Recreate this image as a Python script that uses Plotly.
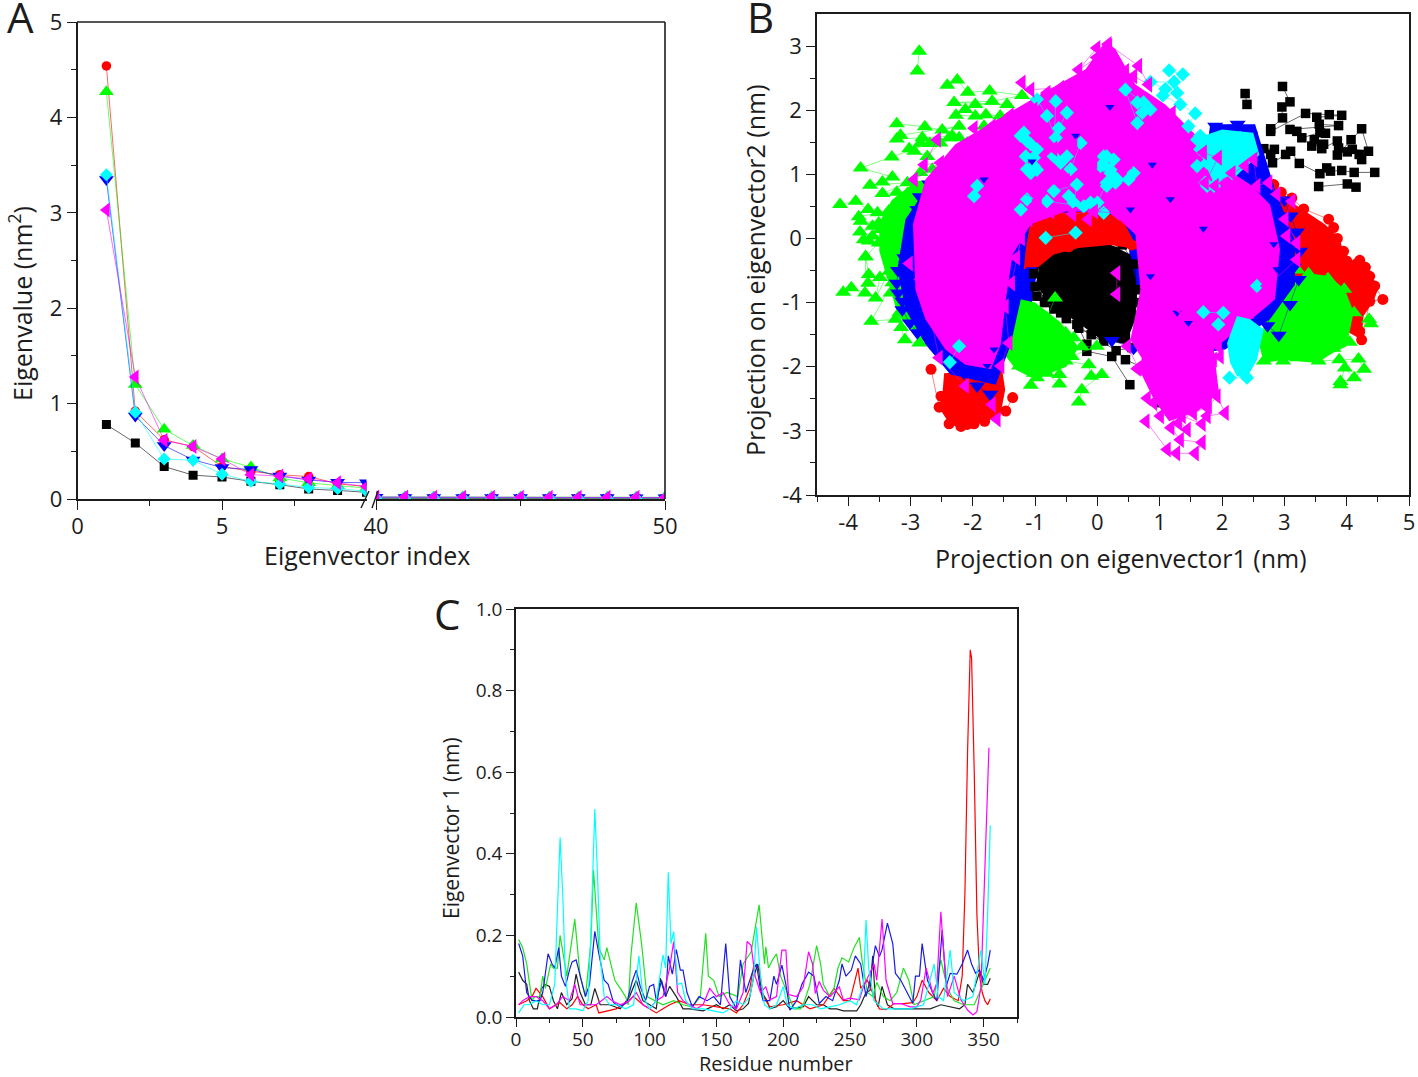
import plotly.graph_objects as go

W, H = 1418, 1077
BLACK, RED, GREEN, BLUE, CYAN, MAGENTA = "#000000", "#ff0000", "#00ff00", "#0000ff", "#00ffff", "#ff00ff"
FONT = "Open Sans"
INK = "#1c1c1c"

# ---------- Panel A : eigenvalues ----------
idx_left = [1, 2, 3, 4, 5, 6, 7, 8, 9, 10]
idx_right = [40, 41, 42, 43, 44, 45, 46, 47, 48, 49, 50]
a_black = [0.78, 0.587, 0.34, 0.25, 0.23, 0.185, 0.15, 0.105, 0.09, 0.07]
a_red = [4.54, 0.92, 0.62, 0.55, 0.34, 0.29, 0.255, 0.235, 0.16, 0.13]
a_green = [4.27, 1.20, 0.73, 0.56, 0.42, 0.335, 0.22, 0.17, 0.14, 0.115]
a_blue = [3.35, 0.87, 0.56, 0.41, 0.33, 0.31, 0.24, 0.20, 0.175, 0.17]
a_cyan = [3.40, 0.91, 0.42, 0.405, 0.26, 0.185, 0.157, 0.12, 0.11, 0.08]
a_magenta = [3.03, 1.28, 0.615, 0.55, 0.42, 0.255, 0.24, 0.21, 0.17, 0.13]
a_black_r = [0.006, 0.006, 0.005, 0.005, 0.005, 0.005, 0.004, 0.004, 0.004, 0.004, 0.004]
a_red_r = [0.016, 0.015, 0.015, 0.015, 0.014, 0.014, 0.014, 0.013, 0.013, 0.013, 0.012]
a_green_r = [0.022, 0.021, 0.021, 0.020, 0.020, 0.019, 0.019, 0.019, 0.018, 0.018, 0.018]
a_blue_r = [0.018, 0.017, 0.017, 0.016, 0.016, 0.016, 0.015, 0.015, 0.015, 0.014, 0.014]
a_cyan_r = [0.014, 0.013, 0.013, 0.013, 0.012, 0.012, 0.012, 0.011, 0.011, 0.011, 0.011]
a_magenta_r = [0.020, 0.020, 0.019, 0.019, 0.018, 0.018, 0.018, 0.017, 0.017, 0.017, 0.016]

# ---------- Panel B : projections (individually read points) ----------
b_black_x = [2.37, 2.40, None, 2.97, 3.09, 2.96, 2.97, 2.78, 2.78, 3.34, 3.72, 3.92, 3.52, 3.56, 3.87, 3.09, 3.20, 3.28, 3.57, 3.66, 3.48, 3.44, 3.63, 3.60, 3.85, 3.87, 3.85, 4.07, 4.24, 4.35, 4.09, 4.01, 4.20, 4.24, None, 2.67, 2.84, 2.78, 2.81, 3.02, 3.10, 3.24, 3.57, 3.68, 3.74, 3.92, 4.12, 4.45, None, 3.55, 4.01, 4.15,
             None, -0.97, -0.81, -0.59, -0.33, -0.17, -0.17, 0.23, 0.52, None, 0.45, 0.77, 0.98, None, -0.9, -0.6, 0.0, 0.4, 0.6, 0.62, 0.6, 0.45, 0.1, -0.3, -0.7, -1.0, None, -1.02, -0.8, -0.4, -0.2, 0.25, 0.5, 0.66, 0.66, 0.55, 0.3, -0.1, -0.5, -0.85]
b_black_y = [2.26, 2.09, None, 2.37, 2.13, 2.05, 1.88, 1.71, 1.67, 1.95, 1.93, 1.92, 1.89, 1.78, 1.76, 1.70, 1.67, 1.57, 1.65, 1.64, 1.54, 1.44, 1.47, 1.40, 1.52, 1.41, 1.30, 1.54, 1.71, 1.36, 1.39, 1.35, 1.31, 1.23, None, 1.40, 1.39, 1.31, 1.18, 1.31, 1.36, 1.17, 1.01, 1.10, 1.05, 1.06, 1.03, 1.03, None, 0.81, 0.85, 0.80,
             None, -0.90, -0.95, -1.16, -1.34, -1.65, -1.76, -1.84, -2.28, None, -1.89, -2.03, -2.56, None, -0.4, -0.1, 0.0, -0.1, -0.4, -0.8, -1.2, -1.55, -1.6, -1.4, -1.1, -0.75, None, -0.55, -0.3, -0.15, -0.05, -0.2, -0.6, -1.0, -1.4, -1.7, -1.75, -1.5, -1.25, -1.0]
b_black_core_x = [-0.91, -0.59, 0.05, 0.53, 0.64, 0.61, 0.45, 0.05, -0.27, -0.75, -0.99]
b_black_core_y = [-0.33, -0.09, -0.02, -0.25, -0.80, -1.26, -1.65, -1.57, -1.34, -1.03, -0.72]

b_red_x = [2.83, 2.69, 3.12, 3.31, 3.71, 3.79, 3.85, 3.95, 4.0, 4.15, 4.3, None, 4.21, 4.37, 4.45, 4.58, 4.37, 4.24, 4.21, 3.95, None, 3.97, 3.79, 3.52,
           None, -2.67, -2.54, -2.51, -2.38, -2.33, -2.19, -2.09, -1.98, -1.81, -1.47, -1.36,
           None, -1.2, -1.15, -1.05, -0.8, -0.5, -0.2, 0.1, 0.35, 0.55, None, -0.46, -1.0, None, 2.95, 3.05, 3.3, 3.55, 3.0, 2.9]
b_red_y = [0.84, 0.94, 0.63, 0.46, 0.30, 0.17, 0.0, -0.2, -0.35, -0.4, -0.45, None, -0.34, -0.59, -0.74, -0.95, -0.98, -1.58, -1.45, -1.42, None, -0.54, -0.28, -0.22,
           None, -2.04, -2.63, -2.46, -2.89, -2.75, -2.93, -2.90, -2.89, -2.85, -2.69, -2.48,
           None, -0.4, -0.1, 0.12, 0.18, 0.2, 0.25, 0.22, 0.15, -0.1, None, -0.13, -0.3, None, 0.72, 0.5, 0.1, -0.1, 0.2, 0.45]
b_red_core_x = [2.83, 3.17, 3.65, 3.89, 3.97, 4.37, 4.5, 4.43, 4.27, 4.24, 3.95, 3.25, 2.93, 2.6, None,
                -2.46, -1.53, -1.48, -1.56, -1.88, -2.17, -2.38, -2.54, -2.49, None,
                -1.28, -0.91, -0.19, 0.37, 0.65, 0.2, -0.3, -0.7, -0.95, -1.2]
b_red_core_y = [0.84, 0.53, 0.22, 0.0, -0.33, -0.48, -0.8, -0.98, -1.21, -1.58, -1.42, -0.95, -0.38, 0.2, None,
                -2.10, -2.04, -2.36, -2.77, -2.88, -2.98, -2.88, -2.64, -2.46, None,
                -0.09, 0.38, 0.42, 0.36, -0.17, -0.1, -0.15, -0.25, -0.45, -0.45]

b_green_x = [-2.86, -2.89, None, -2.41, -2.25, -2.08, -1.73, -1.21, -1.69, -2.30, -1.45, -1.96, -2.12, -2.27, -1.96, -1.79, -1.56, None, -3.22, -2.77, -2.49, -2.22, -3.16, -3.22, -2.81, -2.33, -3.02, -2.69, -3.30, -3.80, -3.29, -3.45, -3.65, -3.05, -3.45, -3.22, -3.05, None, -4.13, -3.88, -3.68, -3.53, -3.35, -3.22, -3.83, -3.61, -3.29, -3.81, -3.67, -3.51, -3.72,
             None, -2.38, -2.84, -2.94, -2.73, -2.52, -2.22, -2.09, -1.82, -1.56, -1.93, None, -2.84, -2.65, None, -3.21, -3.16, -3.48, -3.75, -3.61, -3.37, -3.10, -3.80, -3.51,
             None, -4.08, -3.95, -3.73, -3.72, -3.67, -3.68, -3.49, -3.56, -3.34, -3.32, -3.29, -3.63, -3.24, -3.18, -3.15, -3.09, -3.0, -2.86, -2.57,
             None, -0.68, -0.81, -0.51, -0.38, -0.25, -0.01, -0.41, -0.51, -0.14, -0.10, 0.07, -0.25, -0.30, None, -0.61, -0.61, -0.81, -0.97, -1.07, -1.02, -1.26, -1.21, -0.75, -1.07, -1.02, -0.73, -0.75,
             None, 2.67, 2.93, 2.98, 3.20, 3.55, 3.88, 4.19, 4.28, 4.12, 3.97, 3.90, 3.90, None, 4.39, 4.36, 4.12, 3.96, 3.70, 3.39, 3.21, None, 4.05, 3.79, 3.31, 2.74]
b_green_y = [2.92, 2.61, None, 2.39, 2.47, 2.28, 2.30, 2.23, 2.14, 2.12, 2.09, 2.09, 2.01, 1.92, 1.91, 1.93, 1.91, None, 1.79, 1.74, 1.69, 1.75, 1.61, 1.55, 1.57, 1.60, 1.40, 1.48, 1.27, 1.10, 0.96, 0.88, 0.83, 0.87, 0.70, 0.72, 0.70, None, 0.53, 0.58, 0.45, 0.40, 0.43, 0.45, 0.34, 0.19, 0.24, 0.10, -0.04, -0.07, -0.28,
             None, 1.57, 1.49, 1.36, 1.28, 1.49, 1.57, 1.49, 1.75, 1.80, 1.49, None, 1.03, 1.08, None, 0.56, 0.35, 0.14, -0.02, 0.04, 0.04, -0.17, 0.27, 0.24,
             None, -0.84, -0.77, -0.85, -0.29, -0.56, -0.70, -0.61, -0.93, -0.51, -0.85, -0.69, -1.29, -1.26, -1.16, -1.39, -1.58, -1.06, -1.63, -1.68,
             None, -0.93, -1.24, -1.47, -1.55, -1.69, -1.68, -1.84, -1.91, -1.97, -2.15, -2.12, -2.36, -2.55, None, -2.12, -2.27, -2.10, -2.17, -2.29, -2.10, -1.99, -1.68, -1.58, -1.37, -1.73, -1.99, -1.78,
             None, -1.91, -1.81, -1.91, -1.86, -1.91, -1.89, -1.88, -2.04, -2.17, -2.02, -2.23, -2.28, None, -1.33, -1.26, -1.16, -0.79, -0.63, -0.55, -0.49, None, -1.62, -1.71, -1.78, -1.84]
b_green_core_x = [-2.9, -3.3, -3.5, -3.5, -3.35, -3.2, -2.8, -2.4, -2.4, None,
                  -1.45, -1.0, -0.6, -0.3, -0.5, -1.0, -1.3, -1.5, None,
                  2.72, 3.04, 3.36, 3.73, 3.97, 4.11, 4.00, 3.79, 3.52, 2.99, 2.67, 2.59]
b_green_core_y = [0.9, 0.6, 0.25, -0.2, -0.7, -1.2, -1.6, -1.6, 0.9, None,
                  -0.9, -1.0, -1.3, -1.7, -2.0, -2.2, -2.05, -1.8, None,
                  -1.21, -0.74, -0.54, -0.59, -0.80, -1.16, -1.68, -1.78, -1.94, -1.89, -1.94, -1.63]

b_blue_x = [-3.13, -3.13, -3.01, -2.89, -2.76, -2.57, None, -2.14, -1.97, -1.93, -1.72, None, -2.86, None, -2.89, -2.92, -2.89, -3.02, -3.1, -3.2, -3.22, -3.2, None, -2.44, -2.14, -2.7, -2.85,
            None, 1.89, 2.25, 2.45, 2.48, 2.32, None, 3.23, 3.09, 2.91, 2.73, 2.83, None, 1.57, None, 0.23, 0.58, None, 1.46, None, 3.0, 3.1, 3.2, 3.25, 3.15]
b_blue_y = [-0.98, -1.11, -1.32, -1.47, -1.45, -1.60, None, -2.10, -2.11, -2.30, -2.43, None, -1.19, None, 0.45, 0.24, 0.04, -0.15, -0.3, -0.5, -0.7, -0.85, None, 0.92, 1.00, 0.85, 0.65,
            None, 1.75, 1.78, 1.61, 1.36, 1.31, None, -0.64, -1.03, -1.51, -1.36, -0.95, None, -1.83, None, -1.59, -1.71, None, -1.03, None, 0.6, 0.35, 0.1, -0.2, -0.45]
b_blue_core_x = [-2.76, -3.08, -3.21, -3.08, -2.76, -2.36, -1.63, -1.39, -1.23, -1.15, -1.07, -1.39, None,
                 1.81, 2.53, 2.85, 3.17, 3.17, 2.77, 2.05, 0.85, 0.77, 1.65]
b_blue_core_y = [0.76, 0.30, -0.48, -1.11, -1.65, -2.12, -2.28, -1.65, -0.95, -0.17, 0.30, 1.39, None,
                 1.78, 1.78, 0.76, -0.02, -0.72, -1.26, -1.73, -1.89, -0.95, 0.61]
b_blue_rim_x = [-1.5, -1.5, -1.0, 0.3, 0.75, 0.72, 0.55, 0.5, -0.9, -1.05]
b_blue_rim_y = [-1.1, 0.1, 0.5, 0.5, 0.1, -0.8, -0.9, 0.0, -0.1, -1.0]
b_blue_top_x = [0.88, 0.53, 1.17, 0.85, 1.28, 1.46, 2.83, 2.88, -1.77, -1.66, -1.82, -0.35, -1.05, 0.2, 1.7]
b_blue_top_y = [1.15, 0.45, 0.61, -0.59, -1.16, -1.32, -0.09, -0.48, -1.99, -1.73, 0.92, 1.6, 1.2, 2.05, 0.15]

b_cyan_x = [1.15, 1.37, 1.23, 0.85, 1.09, 1.28, 1.05, 1.33, 1.57, 1.46, 1.65, 1.84, 2.02, 2.29, 2.18, 1.86, 1.65, 1.60, 1.70, 1.86, 1.60, 1.76, 2.02, 1.94, 1.76, 2.16, 1.87, 1.73,
            None, -1.23, -1.18, -1.13, -1.07, -0.97, -1.15, -1.02, -1.02, -1.07, -0.97, -1.13,
            None, -0.97, -0.81, -0.67, -0.62, -0.49, None, -0.67, -0.70, -0.49, -0.59, -0.43, -0.27,
            None, 0.15, 0.10, 0.26, 0.21, 0.29, 0.15, 0.0, 0.10, -0.11, None, -0.70, -0.33, -0.38, -0.46, -0.22, -0.81, None, -1.13, -1.23, None, -1.98, -1.93,
            None, 0.10, 0.05, 0.21, 0.32, 0.15, 0.50, 0.58, None, 0.64, 0.72, 0.64, 0.45, 0.74, 0.85, None, -0.35, -0.83,
            None, 2.12, 2.40, None, 1.70, 2.02, 1.94, None, 2.56, None, -2.37, -2.22]
b_cyan_y = [2.62, 2.56, 2.44, 2.44, 2.33, 2.27, 2.23, 2.09, 1.95, 1.75, 1.60, 1.47, 1.49, 1.57, 1.36, 1.23, 1.39, 1.54, 1.44, 1.28, 1.13, 1.18, 1.13, 0.97, 0.82, 1.02, 0.82, 0.87,
            None, 1.60, 1.65, 1.52, 1.47, 1.39, 1.28, 1.26, 1.13, 1.02, 1.07, 1.08,
            None, 2.17, 1.91, 1.57, 1.72, 1.96, None, 2.14, 1.28, 1.28, 1.18, 1.08, 1.49,
            None, 1.28, 1.15, 1.23, 1.02, 0.87, 0.87, 0.56, 0.40, 0.56, None, 0.74, 0.84, 0.56, 0.66, 0.50, 0.58, None, 0.61, 0.45, None, 0.66, 0.82,
            None, 1.28, 1.13, 1.07, 0.92, 0.82, 0.92, 1.02, None, 2.12, 1.96, 1.80, 2.32, 2.12, 2.01, None, 0.09, 0.01,
            None, -2.17, -2.17, None, -1.15, -1.16, -1.34, None, -0.74, None, -1.93, -1.68]
b_cyan_core_x = [2.08, 2.24, 2.45, 2.67, 2.56, 2.40, 2.24, 2.13, None, 1.55, 2.0, 2.5, 2.6, 2.25, 1.85]
b_cyan_core_y = [-1.63, -1.21, -1.26, -1.42, -1.89, -2.17, -2.15, -1.94, None, 1.55, 1.7, 1.65, 1.3, 1.0, 0.9]

b_magenta_x = [0.78, 1.12, 1.27, 1.57, 1.68, 1.33, 1.18, 1.36, 1.68, 1.76, 2.05, 1.92, 1.78, 1.54, 1.01, 0.80, 0.90, 1.12, 1.33, 1.60, 1.70, 1.49, 1.28, 1.06, 0.90, 0.64, 0.80, 1.17, 1.44, 1.86, 1.97, 1.38, 1.25, 1.14, 1.44, 1.30, 1.70,
               None, 0.18, -0.01, -0.30, -0.01, None, -1.21, -1.07, -0.59, -0.81, None, -2.57, -2.78, -2.52, -2.94, None, -1.98, -1.69, -1.40, -1.02, None, -1.82, None, -0.22,
               None, 0.17, 0.66, 0.82, 0.45, 0.58, None, 0.96, 1.20, None, 1.70, 1.94, 1.73, 1.89, 2.16, 2.37, 2.51, 2.56, 2.75, 2.88, 3.12, 3.01, 3.20, 3.04,
               None, 0.31, 0.31, None, 0.48, 0.66, None, 1.28, None, 1.94, None, 2.45, 2.72, 3.2,
               None, -3.02, -2.84, -2.78, -2.70, -2.54, -2.12, None, -1.61, -1.69, None, -1.55, -1.42, -1.48,
               None, -0.97, -0.7, -0.38, -0.06, -0.2, -0.5, -0.75, None, 0.35, 0.5, 0.9, 1.1, 1.3, 1.45, None, -1.35, -1.4, -0.95, None, -0.15, 0.3, 0.6,
               None, -1.1, -0.75, -0.4, -0.05, 0.3, 0.55, None, -1.3, -1.22, -1.38]
b_magenta_y = [-2.85, -3.29, -3.35, -3.35, -3.18, -3.14, -2.95, -2.77, -2.89, -2.77, -2.72, -2.46, -2.62, -2.72, -2.77, -2.49, -2.56, -2.41, -2.46, -2.46, -2.25, -2.20, -2.25, -2.17, -2.23, -2.03, -2.02, -2.10, -1.99, -1.89, -1.84, -2.62, -2.54, -2.64, -2.98, -2.88, -2.59,
               None, 3.00, 2.97, 2.63, 2.82, None, 2.43, 2.32, 2.35, 2.27, None, 1.54, 1.15, 1.18, 0.92, None, 1.72, 1.75, 1.92, 2.01, None, 1.54, None, 2.43,
               None, 3.03, 2.69, 2.40, 2.61, 2.53, None, 1.86, 1.96, None, 1.34, 1.26, 0.87, 0.82, 1.02, 1.13, 1.23, 0.82, 0.87, 0.69, 0.58, 0.30, -0.07, 0.04,
               None, -0.54, -0.87, None, -1.68, -2.02, None, -1.06, None, -1.68, None, -1.13, -0.74, -0.33,
               None, -0.39, -0.64, -0.85, -1.13, -1.86, -2.30, None, -2.82, -2.59, None, -1.99, -1.63, -1.06,
               None, 1.75, 1.4, 1.45, 1.2, 1.1, 0.9, 0.96, None, 1.4, 1.2, 1.55, 1.3, 1.0, 0.95, None, 1.2, 0.8, 0.6, None, 0.3, 0.6, 0.75,
               None, 0.3, 0.42, 0.38, 0.42, 0.4, 0.25, None, -0.3, 0.0, -0.7]
b_magenta_core_x = [0.13, -0.19, -0.91, -1.55, -2.28, -2.76, -2.96, -2.92, -2.76, -2.44, -2.12, -1.71, -1.55, -1.47, -1.36, -1.07, -0.51, 0.21, 0.61, 0.69, 0.53, 0.7, 1.0, 1.7, 2.37, 2.85, 2.93, 2.77, 2.45, 1.97, 1.57, 1.09, 0.61, 0.29]
b_magenta_core_y = [3.07, 2.64, 2.25, 1.89, 1.47, 0.92, 0.22, -0.80, -1.26, -1.73, -1.97, -2.04, -1.65, -0.95, -0.25, 0.22, 0.42, 0.42, 0.06, -0.80, -1.58, -1.85, -1.95, -1.85, -1.34, -0.95, -0.17, 0.53, 0.84, 1.15, 1.62, 2.09, 2.40, 2.95]
b_magenta_lobe_x = [0.72, 1.85, 1.95, 1.6, 1.15, 0.9, 0.7]
b_magenta_lobe_y = [-1.6, -1.6, -2.4, -2.7, -2.85, -2.5, -2.1]

# ---------- Panel C : eigenvector 1 per residue ----------
c_black_x = [2, 5, 8, 10, 13, 16, 19, 22, 25, 28, 31, 34, 38, 42, 45, 48, 52, 56, 59, 63, 70, 78, 85, 90, 95, 100, 105, 108, 112, 115, 120, 125, 130, 140, 150, 155, 160, 165, 170, 174, 178, 181, 184, 188, 190, 195, 200, 205, 215, 219, 225, 230, 235, 240, 245, 250, 255, 258, 262, 265, 267, 269, 271, 274, 278, 283, 288, 294, 300, 305, 310, 318, 325, 332, 336, 338, 342, 347, 350, 353, 355]
c_black = [0.11, 0.09, 0.08, 0.04, 0.02, 0.02, 0.07, 0.08, 0.075, 0.04, 0.02, 0.06, 0.03, 0.045, 0.105, 0.06, 0.03, 0.03, 0.07, 0.03, 0.03, 0.02, 0.05, 0.09, 0.04, 0.03, 0.02, 0.095, 0.05, 0.075, 0.05, 0.02, 0.02, 0.015, 0.03, 0.02, 0.03, 0.015, 0.02, 0.033, 0.10, 0.13, 0.06, 0.04, 0.02, 0.025, 0.04, 0.02, 0.025, 0.05, 0.03, 0.03, 0.02, 0.02, 0.015, 0.015, 0.015, 0.03, 0.06, 0.065, 0.15, 0.04, 0.025, 0.075, 0.03, 0.02, 0.02, 0.02, 0.02, 0.02, 0.02, 0.03, 0.025, 0.02, 0.03, 0.08, 0.06, 0.11, 0.08, 0.08, 0.095]
c_red_x = [2, 8, 12, 15, 20, 25, 30, 33, 38, 42, 46, 50, 54, 60, 62, 68, 75, 80, 88, 95, 100, 105, 110, 115, 122, 130, 140, 150, 160, 165, 170, 175, 178, 182, 185, 190, 200, 210, 220, 230, 238, 245, 250, 256, 258, 263, 268, 272, 277, 283, 290, 297, 300, 304, 309, 315, 320, 325, 331, 334, 336, 338, 340, 341, 343, 345, 347, 349, 351, 353, 355]
c_red = [0.03, 0.04, 0.05, 0.07, 0.05, 0.02, 0.03, 0.035, 0.02, 0.03, 0.05, 0.03, 0.02, 0.03, 0.01, 0.015, 0.02, 0.03, 0.05, 0.03, 0.02, 0.01, 0.02, 0.03, 0.04, 0.03, 0.03, 0.025, 0.02, 0.01, 0.03, 0.07, 0.127, 0.12, 0.05, 0.025, 0.03, 0.04, 0.02, 0.03, 0.07, 0.04, 0.04, 0.12, 0.07, 0.09, 0.05, 0.02, 0.018, 0.033, 0.033, 0.035, 0.05, 0.09, 0.06, 0.04, 0.07, 0.05, 0.04, 0.10, 0.30, 0.65, 0.90, 0.88, 0.60, 0.25, 0.10, 0.06, 0.04, 0.03, 0.045]
c_green_x = [2, 5, 8, 12, 14, 18, 20, 22, 26, 28, 31, 33, 38, 44, 48, 52, 56, 58, 62, 66, 68, 71, 74, 78, 82, 84, 86, 90, 94, 98, 104, 110, 118, 125, 132, 138, 142, 144, 148, 152, 158, 166, 170, 176, 182, 186, 187, 189, 192, 195, 198, 208, 213, 215, 220, 225, 228, 230, 235, 238, 241, 244, 249, 253, 257, 259, 263, 267, 270, 275, 280, 285, 290, 294, 298, 305, 313, 318, 323, 328, 335, 343, 347, 352, 355]
c_green = [0.19, 0.17, 0.13, 0.04, 0.05, 0.05, 0.10, 0.07, 0.13, 0.12, 0.12, 0.20, 0.10, 0.24, 0.10, 0.05, 0.18, 0.36, 0.17, 0.14, 0.17, 0.13, 0.09, 0.07, 0.05, 0.03, 0.15, 0.28, 0.18, 0.05, 0.04, 0.03, 0.04, 0.03, 0.025, 0.05, 0.205, 0.10, 0.09, 0.05, 0.06, 0.05, 0.13, 0.16, 0.275, 0.13, 0.172, 0.12, 0.14, 0.155, 0.10, 0.02, 0.02, 0.03, 0.08, 0.175, 0.13, 0.08, 0.05, 0.07, 0.12, 0.145, 0.135, 0.17, 0.195, 0.14, 0.06, 0.05, 0.085, 0.05, 0.04, 0.06, 0.12, 0.09, 0.03, 0.04, 0.05, 0.14, 0.07, 0.04, 0.03, 0.03, 0.06, 0.10, 0.12]
c_blue_x = [2, 5, 8, 12, 18, 20, 24, 27, 29, 32, 34, 37, 40, 42, 45, 48, 52, 55, 59, 62, 66, 69, 73, 78, 83, 87, 90, 93, 97, 100, 103, 105, 109, 112, 114, 117, 120, 123, 125, 128, 132, 137, 143, 148, 153, 157, 160, 165, 168, 172, 177, 180, 183, 185, 190, 193, 195, 199, 202, 205, 210, 214, 219, 223, 227, 232, 237, 242, 244, 247, 251, 254, 258, 262, 265, 269, 272, 274, 278, 282, 284, 288, 293, 297, 299, 302, 304, 308, 312, 315, 319, 322, 325, 330, 334, 338, 341, 344, 347, 350, 353, 355]
c_blue = [0.18, 0.15, 0.06, 0.04, 0.04, 0.06, 0.155, 0.13, 0.12, 0.17, 0.10, 0.075, 0.115, 0.135, 0.14, 0.10, 0.05, 0.08, 0.21, 0.155, 0.09, 0.08, 0.035, 0.025, 0.035, 0.087, 0.115, 0.075, 0.04, 0.075, 0.08, 0.04, 0.09, 0.05, 0.15, 0.105, 0.165, 0.115, 0.115, 0.06, 0.025, 0.05, 0.04, 0.05, 0.03, 0.18, 0.05, 0.02, 0.14, 0.06, 0.11, 0.13, 0.065, 0.04, 0.04, 0.10, 0.08, 0.127, 0.08, 0.017, 0.04, 0.08, 0.11, 0.10, 0.033, 0.05, 0.04, 0.09, 0.13, 0.10, 0.115, 0.15, 0.13, 0.05, 0.09, 0.175, 0.148, 0.165, 0.23, 0.18, 0.107, 0.09, 0.058, 0.033, 0.10, 0.10, 0.18, 0.09, 0.058, 0.04, 0.213, 0.075, 0.107, 0.105, 0.13, 0.164, 0.13, 0.107, 0.115, 0.09, 0.127, 0.164]
c_cyan_x = [2, 6, 10, 15, 20, 25, 29, 31, 33, 35, 37, 40, 45, 50, 54, 56, 59, 61, 63, 66, 70, 76, 82, 88, 92, 95, 100, 105, 110, 112, 114, 116, 118, 121, 124, 127, 132, 140, 148, 155, 160, 165, 170, 175, 178, 180, 183, 186, 190, 195, 200, 203, 208, 215, 222, 228, 235, 242, 250, 255, 260, 262, 264, 268, 275, 285, 295, 305, 313, 316, 320, 325, 328, 335, 342, 348, 351, 353, 355]
c_cyan = [0.01, 0.03, 0.03, 0.04, 0.03, 0.03, 0.08, 0.25, 0.44, 0.30, 0.10, 0.02, 0.02, 0.015, 0.04, 0.20, 0.51, 0.35, 0.15, 0.05, 0.03, 0.03, 0.02, 0.03, 0.15, 0.05, 0.02, 0.04, 0.152, 0.12, 0.355, 0.18, 0.209, 0.08, 0.083, 0.04, 0.02, 0.02, 0.015, 0.01, 0.02, 0.04, 0.03, 0.05, 0.10, 0.221, 0.10, 0.03, 0.02, 0.03, 0.074, 0.03, 0.02, 0.03, 0.03, 0.02, 0.025, 0.03, 0.04, 0.03, 0.08, 0.238, 0.12, 0.04, 0.02, 0.02, 0.02, 0.03, 0.13, 0.05, 0.04, 0.164, 0.06, 0.04, 0.05, 0.164, 0.08, 0.25, 0.47]
c_magenta_x = [2, 5, 10, 15, 20, 25, 30, 35, 40, 44, 48, 55, 60, 64, 68, 72, 78, 85, 90, 95, 100, 105, 110, 115, 118, 121, 125, 130, 135, 140, 145, 150, 155, 160, 165, 170, 173, 176, 179, 183, 187, 190, 195, 199, 202, 204, 210, 215, 219, 222, 224, 227, 230, 235, 242, 245, 250, 257, 260, 268, 270, 274, 277, 282, 288, 295, 300, 303, 307, 312, 315, 318, 320, 323, 328, 333, 338, 342, 345, 348, 351, 353, 354]
c_magenta = [0.03, 0.04, 0.05, 0.05, 0.04, 0.02, 0.03, 0.05, 0.04, 0.08, 0.03, 0.03, 0.03, 0.04, 0.05, 0.04, 0.03, 0.04, 0.06, 0.03, 0.02, 0.04, 0.05, 0.12, 0.185, 0.06, 0.04, 0.03, 0.02, 0.03, 0.07, 0.05, 0.06, 0.03, 0.02, 0.06, 0.185, 0.175, 0.10, 0.06, 0.074, 0.042, 0.05, 0.164, 0.164, 0.055, 0.05, 0.074, 0.16, 0.13, 0.058, 0.087, 0.066, 0.05, 0.074, 0.042, 0.046, 0.042, 0.074, 0.13, 0.09, 0.24, 0.09, 0.033, 0.033, 0.025, 0.025, 0.042, 0.12, 0.058, 0.083, 0.258, 0.164, 0.05, 0.10, 0.042, 0.017, 0.005, 0.013, 0.074, 0.37, 0.53, 0.66]

# Tick labels
a_left_ticks, a_right_ticks = [0, 5], [40, 50]
y_a_ticks = [0, 1, 2, 3, 4, 5]
b_x_ticks = [-4, -3, -2, -1, 0, 1, 2, 3, 4, 5]
b_x_labels = ["-4", "-3", "-2", "-1", "0", "1", "2", "3", "4", "5"]
b_y_ticks = [-4, -3, -2, -1, 0, 1, 2, 3]
b_y_labels = ["-4", "-3", "-2", "-1", "0", "1", "2", "3"]
c_x_ticks = [0, 50, 100, 150, 200, 250, 300, 350]
c_y_ticks = [0.0, 0.2, 0.4, 0.6, 0.8, 1.0]


def dx(px0, px1):
    return [px0 / W, px1 / W]


def dy(py_top, py_bot):
    return [1 - py_bot / H, 1 - py_top / H]


def series(x, y, color, symbol, size, xa, ya, lw=0.7):
    return go.Scatter(x=x, y=y, mode="lines+markers", xaxis=xa, yaxis=ya, showlegend=False,
                      line=dict(color=color, width=lw),
                      marker=dict(color=color, symbol=symbol, size=size, line=dict(width=0)))


def cloud(x, y, color, xa="x3", ya="y3"):
    return go.Scatter(x=x, y=y, mode="lines", fill="toself", fillcolor=color, xaxis=xa, yaxis=ya,
                      showlegend=False, hoverinfo="skip", line=dict(color=color, width=0))


fig = go.Figure()

# Panel A
a_series = [(a_black, a_black_r, BLACK, "square", 9), (a_red, a_red_r, RED, "circle", 9.5),
            (a_green, a_green_r, GREEN, "triangle-up", 13), (a_blue, a_blue_r, BLUE, "triangle-down", 13),
            (a_cyan, a_cyan_r, CYAN, "diamond", 10), (a_magenta, a_magenta_r, MAGENTA, "triangle-left", 13)]
for left, right, color, symbol, size in a_series:
    fig.add_trace(series(idx_left, left, color, symbol, size, "x", "y", lw=0.6))
for left, right, color, symbol, size in a_series:
    fig.add_trace(series(idx_right, right, color, symbol, size, "x2", "y", lw=0.6))

# Panel B (drawing order as in the reference)
fig.add_trace(cloud(b_blue_rim_x, b_blue_rim_y, BLUE))
fig.add_trace(cloud(b_black_core_x, b_black_core_y, BLACK))
fig.add_trace(series(b_black_x, b_black_y, BLACK, "square", 9.5, "x3", "y3", lw=0.6))
fig.add_trace(cloud(b_red_core_x, b_red_core_y, RED))
fig.add_trace(series(b_red_x, b_red_y, RED, "circle", 11, "x3", "y3", lw=0.5))
fig.add_trace(cloud(b_green_core_x, b_green_core_y, GREEN))
fig.add_trace(series(b_green_x, b_green_y, GREEN, "triangle-up", 14, "x3", "y3", lw=0.5))
fig.add_trace(cloud(b_blue_core_x, b_blue_core_y, BLUE))
fig.add_trace(series(b_blue_x, b_blue_y, BLUE, "triangle-down", 14, "x3", "y3", lw=0.5))
fig.add_trace(cloud(b_magenta_core_x, b_magenta_core_y, MAGENTA))
fig.add_trace(cloud(b_magenta_lobe_x, b_magenta_lobe_y, MAGENTA))
fig.add_trace(cloud(b_cyan_core_x, b_cyan_core_y, CYAN))
fig.add_trace(series(b_cyan_x, b_cyan_y, CYAN, "diamond", 11, "x3", "y3", lw=0.5))
fig.add_trace(go.Scatter(x=b_blue_top_x, y=b_blue_top_y, mode="markers", xaxis="x3", yaxis="y3", showlegend=False,
                         marker=dict(color=BLUE, symbol="triangle-down", size=8, line=dict(width=0))))
fig.add_trace(series(b_magenta_x, b_magenta_y, MAGENTA, "triangle-left", 14, "x3", "y3", lw=0.5))

# Panel C
for x, y, color in [(c_black_x, c_black, "#222222"), (c_red_x, c_red, RED), (c_green_x, c_green, "#22e022"),
                    (c_blue_x, c_blue, "#1a1ae6"), (c_magenta_x, c_magenta, MAGENTA), (c_cyan_x, c_cyan, CYAN)]:
    fig.add_trace(go.Scatter(x=x, y=y, mode="lines", xaxis="x4", yaxis="y4", showlegend=False,
                             line=dict(color=color, width=1.2)))


def axis(**kw):
    base = dict(showgrid=False, zeroline=False, showline=True, linecolor=INK, linewidth=1.6,
                ticks="outside", ticklen=9, tickwidth=1.4, tickcolor=INK,
                tickfont=dict(family=FONT, size=22, color=INK), automargin=False)
    base.update(kw)
    return base


small = dict(family=FONT, size=19, color=INK)


def minor(vals, n=5):
    return dict(tickvals=vals, ticks="outside", ticklen=n, tickwidth=1.3, tickcolor=INK)


def half(a, b):
    return [a + i + 0.5 for i in range(b - a)]


fig.update_layout(
    width=W, height=H, margin=dict(l=0, r=0, t=0, b=0), paper_bgcolor="white", plot_bgcolor="white",
    showlegend=False,
    xaxis=axis(domain=dx(77.5, 366.5), range=[0, 10], anchor="y", tickmode="array", tickvals=a_left_ticks,
               ticklabelstandoff=-2, minor=minor([2.5, 7.5])),
    xaxis2=axis(domain=dx(376, 665), range=[40, 50], anchor="y", tickmode="array", tickvals=a_right_ticks,
                ticklabelstandoff=-2, minor=minor([45])),
    yaxis=axis(domain=dy(22, 499), range=[0, 5], anchor="x", tickmode="array", tickvals=y_a_ticks,
               minor=minor(half(0, 5))),
    xaxis3=axis(domain=dx(817, 1409), range=[-4.5, 5], anchor="y3", mirror=True, tickmode="array",
                tickvals=b_x_ticks, ticktext=b_x_labels, ticklabelstandoff=-2, minor=minor(half(-5, 5))),
    yaxis3=axis(domain=dy(14, 495), range=[-4, 3.5], anchor="x3", mirror=True, tickmode="array",
                tickvals=b_y_ticks, ticktext=b_y_labels, minor=minor(half(-4, 3))),
    xaxis4=axis(domain=dx(516, 1017), range=[0, 375], anchor="y4", mirror=True, tickmode="array", tickvals=c_x_ticks,
                ticklen=8, tickfont=small, ticklabelstandoff=-4,
                minor=minor([25, 75, 125, 175, 225, 275, 325, 375], 4)),
    yaxis4=axis(domain=dy(609, 1017), range=[0, 1], anchor="x4", mirror=True, tickmode="array", tickvals=c_y_ticks,
                tickformat=".1f", ticklen=8, tickfont=small,
                minor=minor([0.1, 0.3, 0.5, 0.7, 0.9], 4)),
)


def ann(text, px, py, size, angle=0):
    fig.add_annotation(text=text, x=px / W, y=1 - py / H, xref="paper", yref="paper", showarrow=False,
                       font=dict(family=FONT, size=size, color=INK), xanchor="center", yanchor="middle",
                       textangle=angle)


ann("A", 20, 17, 42)
ann("B", 760, 17, 42)
ann("C", 447, 613, 42)
ann("Eigenvector index", 367, 555, 25)
ann("Eigenvalue (nm<sup>2</sup>)", 20, 304, 25, -90)
ann("Projection on eigenvector1 (nm)", 1121, 558, 25)
ann("Projection on eigenvector2 (nm)", 755, 270, 25, -90)
ann("Residue number", 776, 1063, 20)
ann("Eigenvector 1 (nm)", 451, 828, 21, -90)


def rule(x0, y0, x1, y1, width=1.6):
    fig.add_shape(type="line", xref="paper", yref="paper", x0=x0 / W, y0=1 - y0 / H, x1=x1 / W, y1=1 - y1 / H,
                  line=dict(color=INK, width=width))


rule(77, 22, 665, 22)      # top frame of panel A
rule(665, 22, 665, 499)    # right frame of panel A
rule(361, 508, 369, 491, 1.4)  # axis break marks
rule(372, 508, 378, 491, 1.4)

fig.write_html("out.html", config=dict(displayModeBar=False), post_script="document.body.style.margin='0';")
